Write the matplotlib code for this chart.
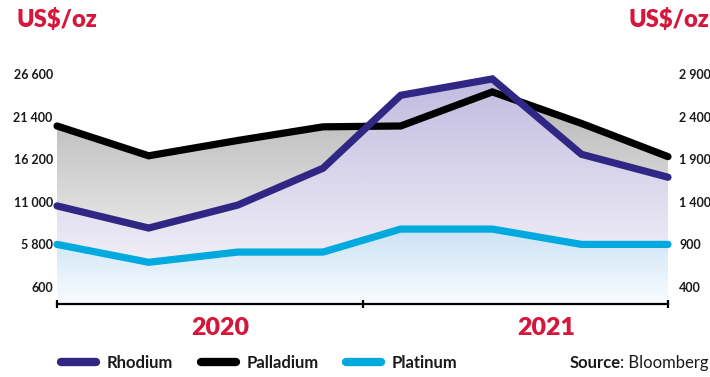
import matplotlib
matplotlib.use("Agg")
import matplotlib.pyplot as plt
import numpy as np
from matplotlib.colors import LinearSegmentedColormap
from matplotlib.lines import Line2D
from matplotlib.patches import Polygon

plt.rcParams['font.family'] = ['Lato', 'DejaVu Sans']

# months since Jan 2020
months = [0, 3.6, 7.1, 10.45, 13.5, 17.1, 20.6, 24]
rhodium = [10500, 7800, 10600, 15100, 24000, 26000, 16800, 14000]   # left axis
palladium = [2290, 1940, 2120, 2280, 2290, 2690, 2320, 1930]        # right axis
platinum = [900, 690, 810, 810, 1080, 1080, 900, 900]               # right axis

left_ticks = [600, 5800, 11000, 16200, 21400, 26600]
right_ticks = [400, 900, 1400, 1900, 2400, 2900]
years = ['2020', '2021']
year_pos = [6.4, 19.2]

RED = '#d6173b'
PURPLE = '#302683'
CYAN = '#00a9de'
TEXT = '#1a1a1a'
W, H = 710, 377


def to_left(r):
    return 600 + (np.asarray(r, dtype=float) - 400) * 10.4


def to_right(l):
    return 400 + (np.asarray(l, dtype=float) - 600) / 10.4


def fmt(v):
    return f"{v:,}".replace(",", " ")


Y0, Y1 = -1475, 28310

fig = plt.figure(figsize=(W / 100, H / 100), dpi=100)
ax = fig.add_axes([57 / W, 73 / H, 611 / W, 244 / H])

x = np.array(months, dtype=float)
series = [
    (to_left(palladium), '#b6b6b6', '#ffffff', 'black', 2),
    (np.array(rhodium, dtype=float), '#c1bbdf', '#fbfafd', PURPLE, 4),
    (to_left(platinum), '#cbe3f6', '#f9fcfe', CYAN, 3),
]


def gradient_fill(y, c_top, c_bot, z):
    verts = np.vstack([np.column_stack([x, y]),
                       [[x[-1], Y0], [x[0], Y0]]])
    patch = Polygon(verts, closed=True, facecolor='none', edgecolor='none')
    ax.add_patch(patch)
    cmap = LinearSegmentedColormap.from_list('g', [c_bot, c_top])
    grad = np.linspace(0, 1, 256).reshape(-1, 1)
    im = ax.imshow(grad, cmap=cmap, aspect='auto', origin='lower',
                   extent=[x[0], x[-1], Y0, y.max()], zorder=z * 0.1,
                   interpolation='bilinear')
    im.set_clip_path(patch)


for i, (y, ctop, cbot, _, _) in enumerate(series):
    gradient_fill(y, ctop, cbot, i + 1)

for y, _, _, color, z in series:
    ax.plot(x, y, color=color, lw=5.2, solid_capstyle='round',
            solid_joinstyle='miter', clip_on=False, zorder=z)

ax.set_xlim(0, 24)
ax.set_ylim(Y0, Y1)

for s in ['top', 'left', 'right']:
    ax.spines[s].set_visible(False)
ax.spines['bottom'].set_linewidth(1.6)
ax.spines['bottom'].set_zorder(6)
ax.set_xticks([0, 12, 24])
ax.set_xticklabels([])
ax.tick_params(axis='x', direction='inout', length=6, width=1.6)

ax.set_yticks(left_ticks)
ax.set_yticklabels([fmt(v) for v in left_ticks])
ax.tick_params(axis='y', length=0, pad=3, labelsize=9, labelcolor=TEXT)
for t in ax.get_yticklabels():
    t.set_fontweight('bold')

sec = ax.secondary_yaxis('right', functions=(to_right, to_left))
sec.set_yticks(right_ticks)
sec.set_yticklabels([fmt(v) for v in right_ticks])
sec.tick_params(length=0, pad=8, labelsize=9, labelcolor=TEXT)
sec.spines['right'].set_visible(False)
for t in sec.get_yticklabels():
    t.set_fontweight('bold')

# units
fig.text(17 / W, 1 - 20 / H, 'US$/oz', color=RED, fontsize=17,
         fontweight='heavy', va='center', ha='left')
fig.text(709 / W, 1 - 20 / H, 'US$/oz', color=RED, fontsize=17,
         fontweight='heavy', va='center', ha='right')

# year labels
for yr, pos in zip(years, year_pos):
    ax.text(pos, -0.1, yr, transform=ax.get_xaxis_transform(), color=RED,
            fontsize=18, fontweight='heavy', ha='center', va='center')

# legend
handles = [Line2D([], [], color=c, lw=6, solid_capstyle='round')
           for c in [PURPLE, 'black', CYAN]]
leg = fig.legend(handles, ['Rhodium', 'Palladium', 'Platinum'], ncol=3,
                 loc='center left', bbox_to_anchor=(61 / W, 1 - 363 / H),
                 frameon=False, fontsize=12, handlelength=2.1,
                 handletextpad=0.65, columnspacing=1.65, borderpad=0,
                 borderaxespad=0)
for t in leg.get_texts():
    t.set_fontweight('bold')
    t.set_color(TEXT)

# source line, right-aligned to the figure edge
src = fig.text(709 / W, 1 - 363 / H, ': Bloomberg', fontsize=12,
               color=TEXT, va='center', ha='right')
bb = src.get_window_extent(fig.canvas.get_renderer())
fig.text(bb.x0 / W, 1 - 363 / H, 'Source', fontsize=12, fontweight='bold',
         color=TEXT, va='center', ha='right')

fig.savefig('out.png', dpi=100)
